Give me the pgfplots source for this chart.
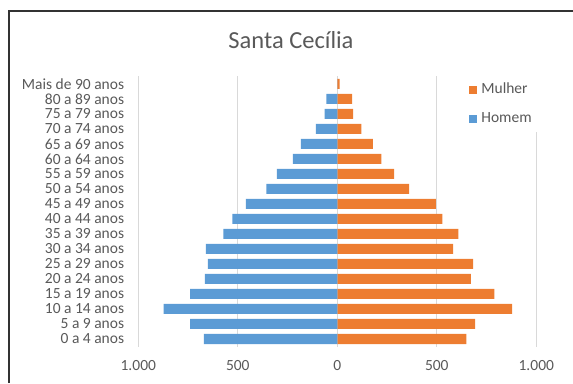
\documentclass[border=0pt]{standalone}
\usepackage{fontspec}
\setmainfont{Carlito}
\usepackage{pgfplots}
\pgfplotsset{compat=1.18}
\definecolor{homem}{RGB}{91,155,213}
\definecolor{mulher}{RGB}{237,125,49}
\definecolor{txt}{RGB}{89,89,89}
\definecolor{grd}{RGB}{217,217,217}
\begin{document}
\begin{tikzpicture}[x=1pt,y=1pt]
\path[use as bounding box] (0,0) rectangle (573,383);
\draw[line width=1.8pt, black!80] (9.3,0) -- (9.3,372) -- (573,372);
\node[anchor=base, font=\fontsize{24.5}{29}\selectfont, text=txt] at (291,334) {Santa Cecília};
\begin{axis}[
  at={(138.3pt,36.5pt)}, anchor=south west, scale only axis,
  width=398pt, height=270pt,
  xmin=-1000, xmax=1000, ymin=-0.5, ymax=17.5,
  xbar, bar width=10pt, bar shift=0pt,
  xtick={-1000,-500,0,500,1000},
  xticklabels={1.000,500,0,500,1.000},
  ytick={0,...,17},
  yticklabels={0 a 4 anos,5 a 9 anos,10 a 14 anos,15 a 19 anos,20 a 24 anos,25 a 29 anos,30 a 34 anos,35 a 39 anos,40 a 44 anos,45 a 49 anos,50 a 54 anos,55 a 59 anos,60 a 64 anos,65 a 69 anos,70 a 74 anos,75 a 79 anos,80 a 89 anos,Mais de 90 anos},
  xmajorgrids, major grid style={grd, line width=0.8pt},
  axis line style={draw=none}, major tick length=0pt, tick style={draw=none},
  yticklabel style={anchor=east, inner sep=0pt, xshift=-14pt, font=\fontsize{15.5}{18}\selectfont, text=txt},
  xticklabel style={anchor=base, inner sep=0pt, yshift=-23.5pt, font=\fontsize{15.5}{18}\selectfont, text=txt},
  legend style={at={(0.8133,1.0056)}, anchor=north west, draw=none, fill=white,
    inner xsep=7pt, inner ysep=8pt, row sep=17pt, column sep=4.5pt,
    font=\fontsize{15.5}{18}\selectfont, text=txt, nodes={inner sep=0pt, anchor=base west}},
  legend cell align=left,
  legend image code/.code={\fill[#1] (0pt,-0.15pt) rectangle (7.7pt,7.55pt);},
]
\addplot[fill=mulher, draw=none] coordinates {
(649,0) (693,1) (878,2) (789,3) (671,4) (683,5) (582,6) (609,7) (528,8)
(495,9) (361,10) (285,11) (221,12) (179,13) (121,14) (79,15) (74,16) (12,17)};
\addlegendentry{Mulher}
\addplot[fill=homem, draw=none] coordinates {
(-670,0) (-740,1) (-873,2) (-740,3) (-665,4) (-651,5) (-660,6) (-572,7) (-527,8)
(-460,9) (-357,10) (-304,11) (-223,12) (-183,13) (-108,14) (-64,15) (-55,16) (0,17)};
\addlegendentry{Homem}
\end{axis}
\end{tikzpicture}
\end{document}
